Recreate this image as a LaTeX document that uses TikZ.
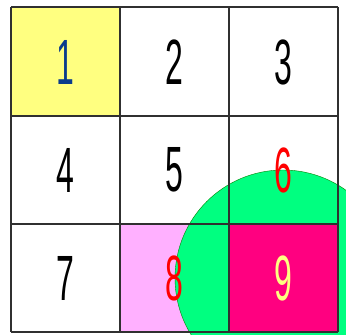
\documentclass[tikz,border=0pt]{standalone}
\usepackage{fontspec}
\setmainfont{Liberation Sans}
\definecolor{cyellow}{HTML}{FFFF80}
\definecolor{cpink}{HTML}{FFB0FF}
\definecolor{cgreen}{HTML}{00FF80}
\definecolor{cmag}{HTML}{FF0080}
\definecolor{cblue}{HTML}{0A3C8C}
\definecolor{cgrid}{HTML}{303030}
\begin{document}
\begin{tikzpicture}[x=0.75pt,y=-0.75pt,
  digit/.style={inner sep=0pt,font=\fontsize{48}{48}\selectfont,xscale=0.5},
  gridline/.style={draw=cgrid,line width=0.9pt}]
\useasboundingbox (0,0) rectangle (346,335);
\fill[white] (0,0) rectangle (346,335);
\clip (0,0) rectangle (346,335);
\fill[cyellow] (11,7) rectangle (120,116);
\fill[cpink] (120,224) rectangle (229,332);
\fill[cgreen] (283,278) circle[radius=108];
\draw[green!50!black,line width=0.3pt] (283,278) circle[radius=108];
\fill[cmag] (229,224) rectangle (338,332);
\foreach \x in {11,120,229,338} \draw[gridline] (\x,7) -- (\x,332);
\foreach \y in {7,116,224,332} \draw[gridline] (11,\y) -- (338,\y);
\node[digit,text=cblue] (n1) at (65.5,62) {1};
\node[digit] (n2) at (174.5,62) {2};
\node[digit] (n3) at (283.5,62) {3};
\node[digit] (n4) at (65.5,170) {4};
\node[digit] (n5) at (174.5,170) {5};
\node[digit,text=red] (n6) at (283.5,170) {6};
\node[digit] (n7) at (65.5,278) {7};
\node[digit,text=red] (n8) at (174.5,278) {8};
\node[digit,text=cyellow] (n9) at (283.5,278) {9};
\end{tikzpicture}
\end{document}
